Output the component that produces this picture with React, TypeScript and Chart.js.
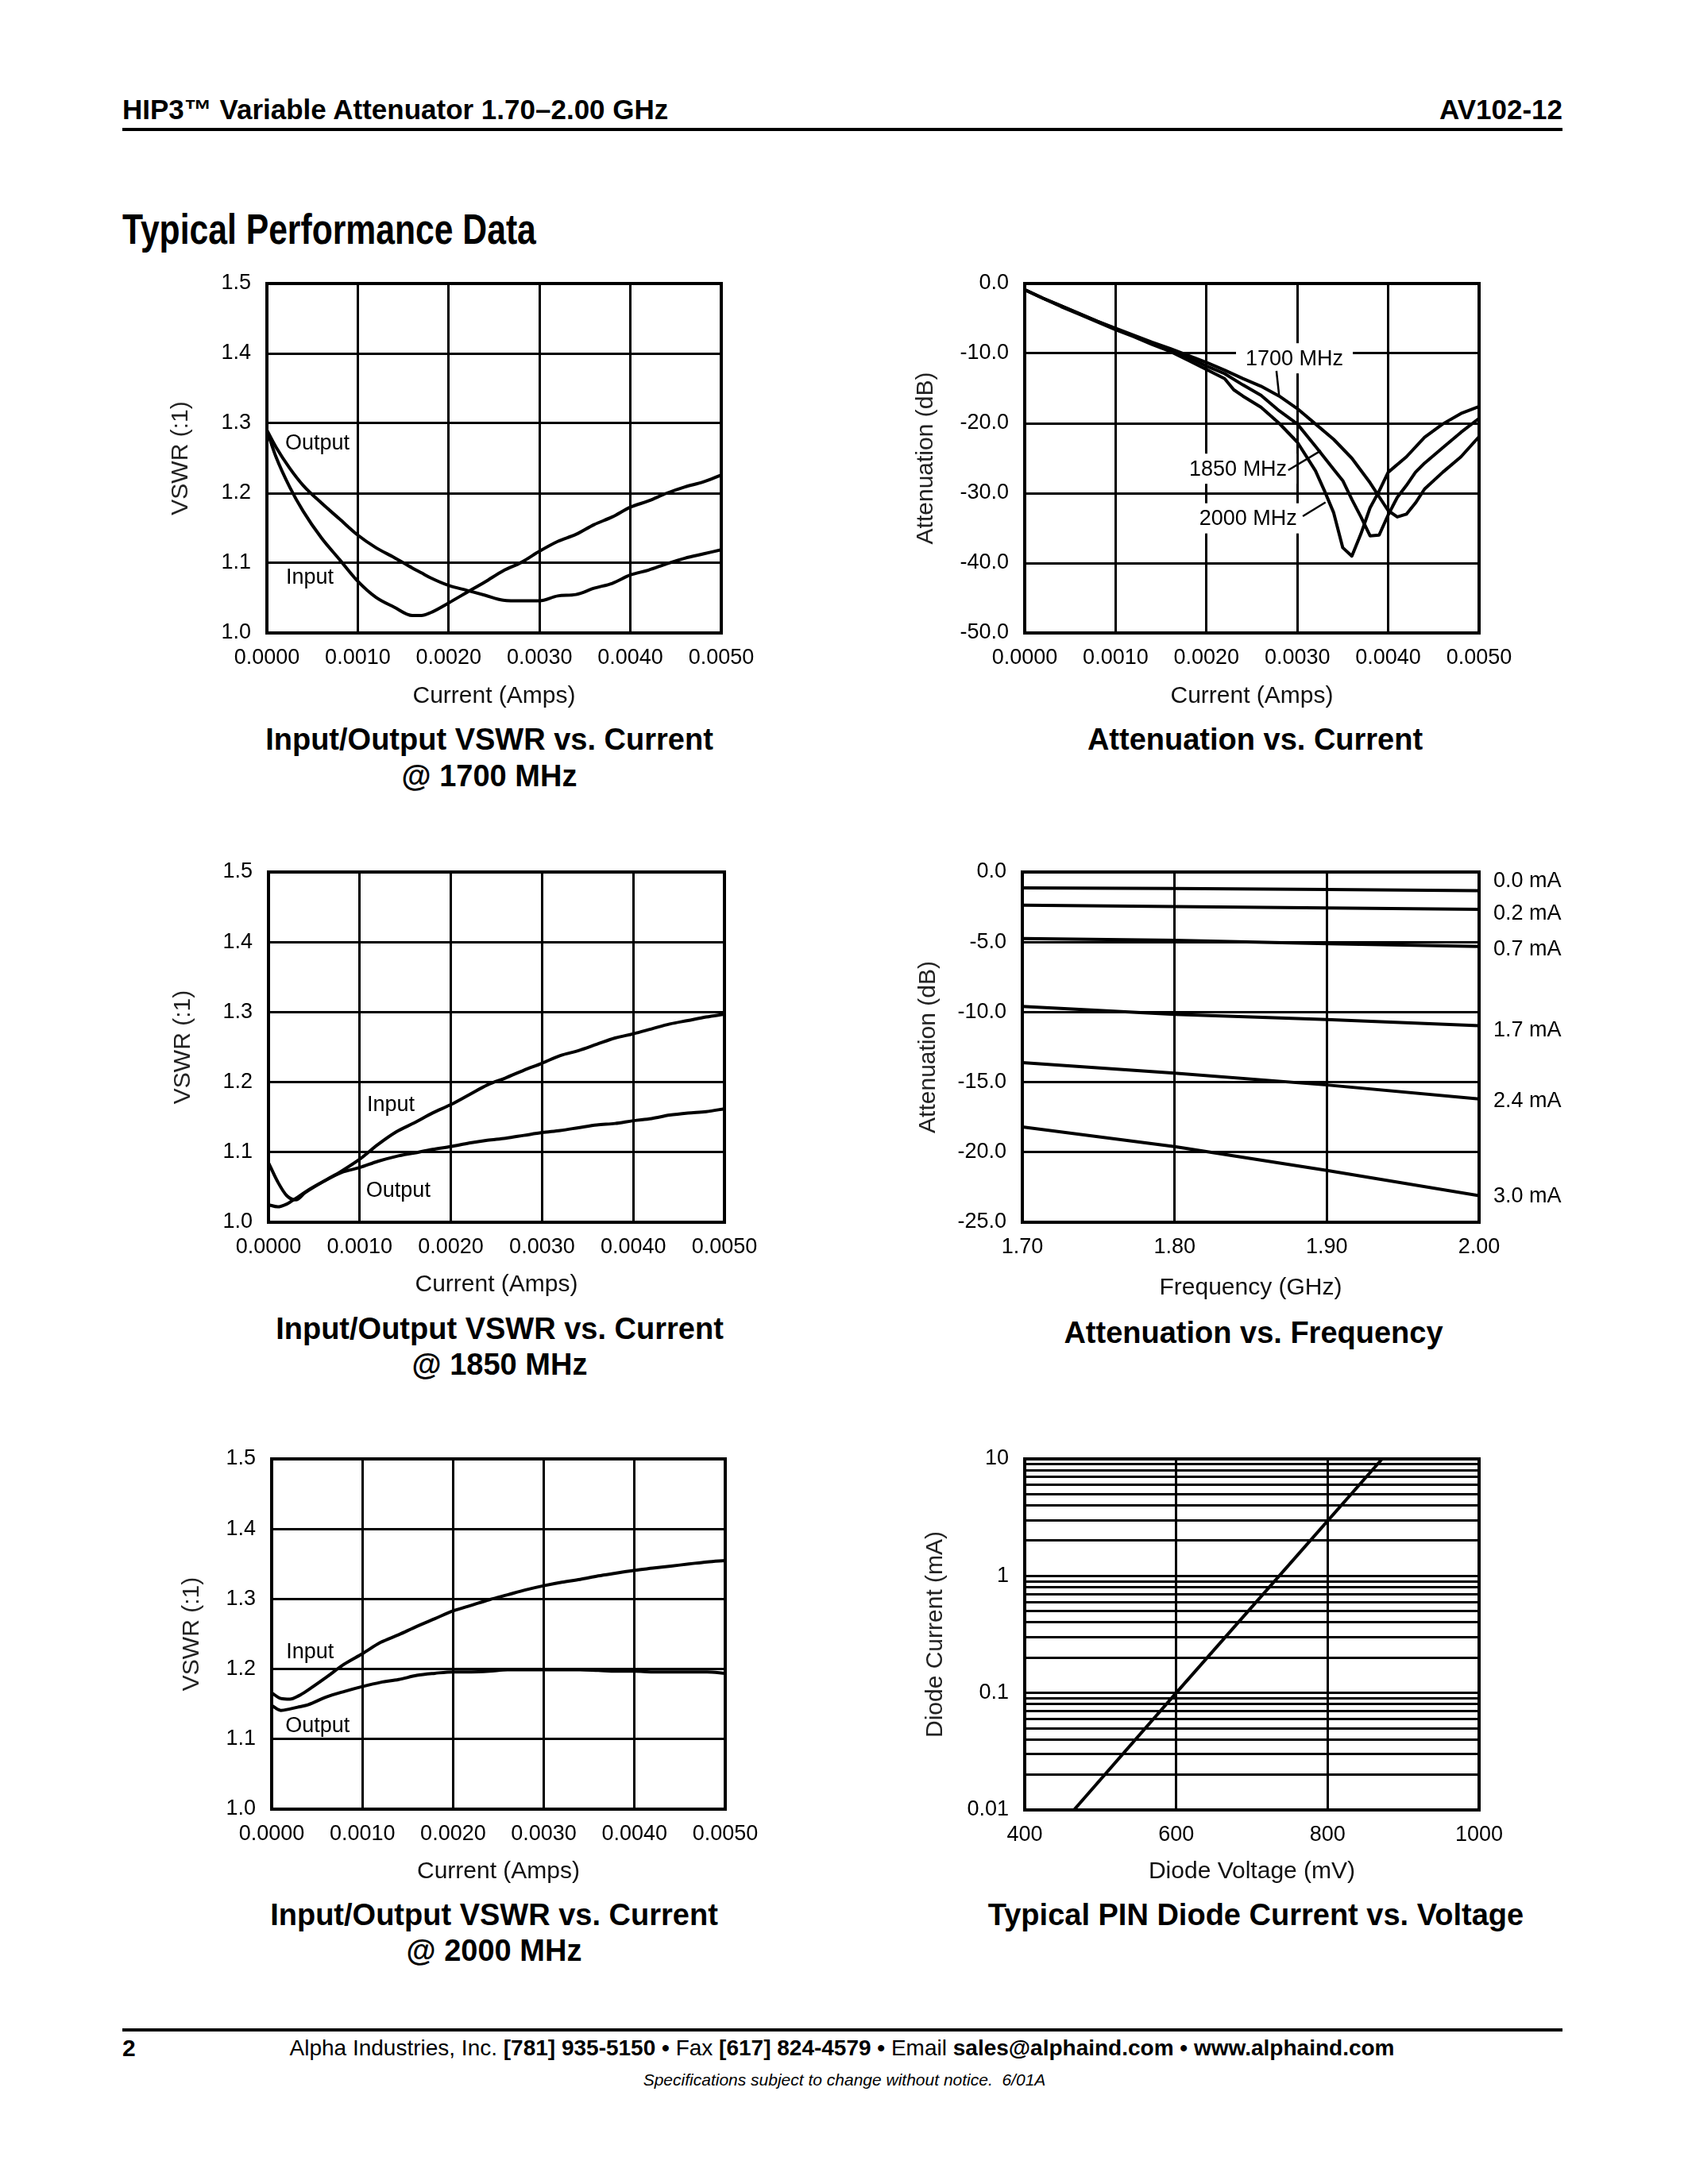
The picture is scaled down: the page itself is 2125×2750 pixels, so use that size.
import React, { useEffect, useRef } from "react";
import { Chart, registerables } from "chart.js";

Chart.register(...registerables);

const FONT = '"Liberation Sans", Arial, Helvetica, sans-serif';
Chart.defaults.font.family = FONT;
Chart.defaults.color = "#000";

// ---------- tick values / labels ----------
const currentTicks = [0, 0.001, 0.002, 0.003, 0.004, 0.005];
const currentTickLabels = ["0.0000", "0.0010", "0.0020", "0.0030", "0.0040", "0.0050"];
const vswrTicks = [1.0, 1.1, 1.2, 1.3, 1.4, 1.5];
const vswrTickLabels = ["1.0", "1.1", "1.2", "1.3", "1.4", "1.5"];
const attCurTicks = [-50, -40, -30, -20, -10, 0];
const attCurTickLabels = ["-50.0", "-40.0", "-30.0", "-20.0", "-10.0", "0.0"];
const freqTicks = [1.7, 1.8, 1.9, 2.0];
const freqTickLabels = ["1.70", "1.80", "1.90", "2.00"];
const attFreqTicks = [-25, -20, -15, -10, -5, 0];
const attFreqTickLabels = ["-25.0", "-20.0", "-15.0", "-10.0", "-5.0", "0.0"];
const voltTicks = [400, 600, 800, 1000];
const voltTickLabels = ["400", "600", "800", "1000"];
const diodeGridTicks = [
  0.01, 0.02, 0.03, 0.04, 0.05, 0.06, 0.07, 0.08, 0.09,
  0.1, 0.2, 0.3, 0.4, 0.5, 0.6, 0.7, 0.8, 0.9,
  1, 2, 3, 4, 5, 6, 7, 8, 9, 10,
];
const diodeDecades = [0.01, 0.1, 1, 10];
const diodeDecadeLabels = ["0.01", "0.1", "1", "10"];

// ---------- VSWR @ 1700 MHz ----------
const vswr1700Current = [0, 0.0001, 0.00025, 0.0004, 0.0006, 0.0008, 0.001, 0.0012, 0.0014, 0.0016, 0.0017, 0.0018, 0.002, 0.0022, 0.0024, 0.0026, 0.0028, 0.003, 0.0032, 0.0034, 0.0036, 0.0038, 0.004, 0.0042, 0.0044, 0.0046, 0.0048, 0.005];
const input1700 = [1.290, 1.252, 1.209, 1.174, 1.136, 1.105, 1.074, 1.051, 1.037, 1.025, 1.025, 1.029, 1.043, 1.058, 1.073, 1.089, 1.101, 1.117, 1.131, 1.141, 1.155, 1.166, 1.180, 1.189, 1.200, 1.209, 1.216, 1.226];
const output1700 = [1.290, 1.266, 1.236, 1.211, 1.186, 1.163, 1.140, 1.122, 1.108, 1.093, 1.086, 1.079, 1.068, 1.061, 1.054, 1.047, 1.046, 1.046, 1.053, 1.055, 1.064, 1.071, 1.083, 1.090, 1.099, 1.107, 1.113, 1.119];

// ---------- VSWR @ 1850 / 2000 MHz ----------
const vswrCurrent = [0, 0.0001, 0.0002, 0.0003, 0.0004, 0.0006, 0.0008, 0.001, 0.0012, 0.0014, 0.0016, 0.0018, 0.002, 0.0022, 0.0024, 0.0026, 0.0028, 0.003, 0.0032, 0.0034, 0.0036, 0.0038, 0.004, 0.0042, 0.0044, 0.0046, 0.0048, 0.005];
const input1850 = [1.085, 1.058, 1.038, 1.032, 1.042, 1.058, 1.073, 1.090, 1.111, 1.129, 1.142, 1.156, 1.168, 1.182, 1.196, 1.206, 1.217, 1.227, 1.238, 1.245, 1.254, 1.263, 1.269, 1.276, 1.283, 1.288, 1.293, 1.297];
const output1850 = [1.025, 1.022, 1.026, 1.034, 1.043, 1.058, 1.071, 1.078, 1.087, 1.094, 1.099, 1.104, 1.108, 1.113, 1.117, 1.120, 1.124, 1.128, 1.131, 1.135, 1.139, 1.141, 1.145, 1.148, 1.153, 1.156, 1.158, 1.162];
const input2000 = [1.166, 1.158, 1.157, 1.162, 1.170, 1.188, 1.207, 1.222, 1.238, 1.249, 1.261, 1.272, 1.283, 1.291, 1.299, 1.306, 1.313, 1.319, 1.324, 1.328, 1.333, 1.337, 1.341, 1.344, 1.347, 1.350, 1.353, 1.355];
const output2000 = [1.148, 1.141, 1.143, 1.146, 1.149, 1.160, 1.168, 1.175, 1.181, 1.185, 1.191, 1.194, 1.196, 1.196, 1.197, 1.199, 1.199, 1.199, 1.199, 1.199, 1.198, 1.197, 1.197, 1.196, 1.196, 1.196, 1.196, 1.194];

// ---------- Attenuation vs. Current ----------
const att1700Current = [0, 0.0002, 0.0004, 0.0006, 0.0008, 0.001, 0.0012, 0.0014, 0.0016, 0.0018, 0.002, 0.0022, 0.0024, 0.0026, 0.0028, 0.003, 0.0032, 0.0034, 0.0036, 0.0038, 0.004, 0.0041, 0.0042, 0.0043, 0.0044, 0.0046, 0.0048, 0.005];
const att1700 = [-0.9, -2.1, -3.2, -4.3, -5.4, -6.4, -7.4, -8.4, -9.3, -10.3, -11.3, -12.4, -13.6, -14.7, -16.1, -17.9, -20.1, -22.3, -25.0, -28.5, -32.5, -33.4, -33.0, -31.4, -29.4, -27.0, -24.8, -21.9];
const att1850Current = [0, 0.0002, 0.0004, 0.0006, 0.0008, 0.001, 0.0012, 0.0014, 0.0016, 0.0018, 0.002, 0.0022, 0.0024, 0.0026, 0.0028, 0.003, 0.0032, 0.0034, 0.0035, 0.0036, 0.0037, 0.0038, 0.0039, 0.004, 0.0041, 0.0042, 0.0043, 0.0044, 0.0046, 0.0048, 0.005];
const att1850 = [-0.9, -2.1, -3.2, -4.3, -5.4, -6.5, -7.5, -8.5, -9.5, -10.6, -11.8, -12.9, -14.5, -16.0, -18.2, -20.1, -23.3, -26.6, -28.2, -30.9, -33.4, -36.1, -36.0, -33.1, -30.6, -28.9, -27.0, -25.7, -23.5, -21.3, -19.3];
const att2000Current = [0, 0.0002, 0.0004, 0.0006, 0.0008, 0.001, 0.0012, 0.0014, 0.0016, 0.0018, 0.002, 0.0022, 0.0023, 0.0024, 0.0026, 0.0028, 0.003, 0.0032, 0.0033, 0.0034, 0.0035, 0.0036, 0.0037, 0.0038, 0.0039, 0.004, 0.0042, 0.0044, 0.0046, 0.0048, 0.005];
const att2000 = [-0.9, -2.1, -3.3, -4.4, -5.5, -6.6, -7.6, -8.7, -9.7, -11.0, -12.3, -13.6, -15.2, -16.1, -17.7, -20.0, -22.7, -26.8, -29.7, -32.8, -37.8, -39.0, -35.8, -32.1, -29.7, -27.0, -24.8, -22.0, -20.1, -18.6, -17.6];

// ---------- Attenuation vs. Frequency ----------
const freqGHz = [1.70, 1.80, 1.90, 2.00];
const att0_0mA = [-1.13, -1.18, -1.25, -1.33];
const att0_2mA = [-2.36, -2.46, -2.56, -2.66];
const att0_7mA = [-4.75, -4.87, -5.12, -5.31];
const att1_7mA = [-9.6, -10.16, -10.53, -10.97];
const att2_4mA = [-13.6, -14.35, -15.2, -16.2];
const att3_0mA = [-18.2, -19.6, -21.3, -23.1];
const freqCurveLabels = ["0.0 mA", "0.2 mA", "0.7 mA", "1.7 mA", "2.4 mA", "3.0 mA"];
const freqCurveLabelDb = [-0.6, -2.95, -5.45, -11.25, -16.3, -23.1];

// ---------- PIN diode ----------
const diodeVoltageMv = [465, 600, 736, 872];
const diodeCurrentMa = [0.01, 0.1, 1, 10];

// ---------- helpers ----------
type Pt = { x: number; y: number };
const zip = (xs: number[], ys: number[]): Pt[] => xs.map((x, i) => ({ x, y: ys[i] }));

interface Annot {
  text: string;
  x: number;
  y: number;
  dx?: number;
  box?: boolean;
  leader?: [number, number, number, number];
}

interface Spec {
  L: number; T: number; R: number; B: number;
  yOff: number; xOff: number;
  xMin: number; xMax: number; xTicks: number[]; xLabel: (v: number, i: number) => string;
  yType: "linear" | "logarithmic";
  yMin: number; yMax: number; yTicks: number[]; yLabel: (v: number, i: number) => string;
  xTitle: string; yTitle: string;
  series: Pt[][];
  smooth: boolean;
  annots: Annot[];
}

const PAD_L = 10, PAD_T = 40, PAD_R = 140, PAD_B = 10;

const framePlugin = {
  id: "frame",
  afterDatasetsDraw(chart: any) {
    const { ctx, chartArea: a } = chart;
    ctx.save();
    ctx.strokeStyle = "#000";
    ctx.lineWidth = 4;
    ctx.strokeRect(a.left, a.top, a.right - a.left, a.bottom - a.top);
    ctx.restore();
  },
};

function annotPlugin(annots: Annot[]) {
  return {
    id: "annots",
    beforeDatasetsDraw(chart: any) {
      const { ctx } = chart;
      const xs = chart.scales.x, ys = chart.scales.y;
      ctx.save();
      ctx.font = `27px ${FONT}`;
      ctx.textBaseline = "middle";
      ctx.textAlign = "left";
      const items = annots.map((a) => {
        const px = xs.getPixelForValue(a.x) + (a.dx || 0);
        const py = ys.getPixelForValue(a.y);
        const w = ctx.measureText(a.text).width;
        return { a, px, py, w };
      });
      for (const it of items) {
        if (it.a.box) {
          ctx.fillStyle = "#fff";
          ctx.fillRect(it.px - 12, it.py - 19, it.w + 24, 38);
        }
      }
      for (const it of items) {
        ctx.fillStyle = "#000";
        ctx.fillText(it.a.text, it.px, it.py + 1);
        if (it.a.leader) {
          const [x1, y1, x2, y2] = it.a.leader;
          ctx.beginPath();
          ctx.lineWidth = 2.5;
          ctx.strokeStyle = "#000";
          ctx.moveTo(xs.getPixelForValue(x1), ys.getPixelForValue(y1));
          ctx.lineTo(xs.getPixelForValue(x2), ys.getPixelForValue(y2));
          ctx.stroke();
        }
      }
      ctx.restore();
    },
  };
}

function buildConfig(spec: Spec, W: number, H: number): any {
  return {
    type: "line",
    data: {
      datasets: spec.series.map((d) => ({
        data: d,
        borderColor: "#000",
        borderWidth: 4,
        pointRadius: 0,
        fill: false,
        tension: spec.smooth ? 0.4 : 0,
        cubicInterpolationMode: spec.smooth ? "monotone" : "default",
        borderJoinStyle: "round",
        borderCapStyle: "round",
      })),
    },
    options: {
      responsive: false,
      animation: false,
      devicePixelRatio: 1,
      events: [],
      layout: { padding: { left: PAD_L, top: PAD_T, right: PAD_R, bottom: PAD_B } },
      plugins: { legend: { display: false }, tooltip: { enabled: false }, title: { display: false } },
      scales: {
        x: {
          type: "linear",
          min: spec.xMin,
          max: spec.xMax,
          afterBuildTicks: (s: any) => { s.ticks = spec.xTicks.map((v) => ({ value: v })); },
          afterFit: (s: any) => { s.height = H; },
          ticks: {
            autoSkip: false, maxRotation: 0, minRotation: 0, padding: 15,
            font: { size: 27 }, color: "#000",
            callback: (v: number, i: number) => spec.xLabel(v, i),
          },
          grid: { color: "#000", lineWidth: 3, drawTicks: false },
          border: { display: false },
          title: { display: true, text: spec.xTitle, font: { size: 30 }, color: "#111", padding: { top: 0, bottom: 2 } },
        },
        y: {
          type: spec.yType,
          min: spec.yMin,
          max: spec.yMax,
          afterBuildTicks: (s: any) => { s.ticks = spec.yTicks.map((v) => ({ value: v })); },
          afterFit: (s: any) => { s.width = W; },
          ticks: {
            autoSkip: false, padding: 20,
            font: { size: 27 }, color: "#000",
            callback: (v: number, i: number) => spec.yLabel(v, i),
          },
          grid: { color: "#000", lineWidth: 3, drawTicks: false },
          border: { display: false },
          title: { display: true, text: spec.yTitle, font: { size: 30 }, color: "#222", padding: { top: 4, bottom: 0 } },
        },
      },
    },
    plugins: [annotPlugin(spec.annots), framePlugin],
  };
}

function ChartBox({ spec }: { spec: Spec }) {
  const ref = useRef<HTMLCanvasElement>(null);
  const W = spec.yOff + 22;
  const H = spec.xOff + 20;
  const cl = spec.L - W - PAD_L;
  const ct = spec.T - PAD_T;
  const cw = PAD_L + W + (spec.R - spec.L) + PAD_R;
  const ch = PAD_T + (spec.B - spec.T) + H + PAD_B;
  useEffect(() => {
    if (!ref.current) return;
    const chart = new Chart(ref.current, buildConfig(spec, W, H));
    return () => chart.destroy();
  }, []);
  return (
    <canvas
      ref={ref}
      width={cw}
      height={ch}
      style={{ position: "absolute", left: cl, top: ct, width: cw, height: ch }}
    />
  );
}

function Txt(props: {
  x: number; y: number; size: number; bold?: boolean; italic?: boolean;
  align?: "left" | "center" | "right"; scaleX?: number; children: any;
}) {
  const { x, y, size, bold, italic, align = "left", scaleX, children } = props;
  const base: any = {
    position: "absolute",
    top: y - 0.49 * size,
    fontSize: size,
    lineHeight: `${size}px`,
    fontWeight: bold ? 700 : 400,
    fontStyle: italic ? "italic" : "normal",
    whiteSpace: "nowrap",
    fontFamily: FONT,
    color: "#000",
  };
  if (align === "left") {
    return (
      <div style={{ ...base, left: x, transform: scaleX ? `scaleX(${scaleX})` : undefined, transformOrigin: "left center" }}>
        {children}
      </div>
    );
  }
  if (align === "center") {
    return <div style={{ ...base, left: x - 1500, width: 3000, textAlign: "center" }}>{children}</div>;
  }
  return <div style={{ ...base, left: x - 3000, width: 3000, textAlign: "right" }}>{children}</div>;
}

const curLabel = (_v: number, i: number) => currentTickLabels[i] ?? "";
const vswrLabel = (_v: number, i: number) => vswrTickLabels[i] ?? "";

const vswrCommon = {
  xMin: 0, xMax: 0.005, xTicks: currentTicks, xLabel: curLabel,
  yType: "linear" as const, yMin: 1.0, yMax: 1.5, yTicks: vswrTicks, yLabel: vswrLabel,
  xTitle: "Current (Amps)", yTitle: "VSWR (:1)", smooth: true,
};

const chart1: Spec = {
  ...vswrCommon,
  L: 336, T: 357, R: 908, B: 797, yOff: 108, xOff: 80,
  series: [zip(vswr1700Current, input1700), zip(vswr1700Current, output1700)],
  annots: [
    { text: "Output", x: 0.0002, y: 1.272 },
    { text: "Input", x: 0.00021, y: 1.08 },
  ],
};

const chart2: Spec = {
  L: 1290, T: 357, R: 1862, B: 797, yOff: 124, xOff: 80,
  xMin: 0, xMax: 0.005, xTicks: currentTicks, xLabel: curLabel,
  yType: "linear", yMin: -50, yMax: 0, yTicks: attCurTicks, yLabel: (_v, i) => attCurTickLabels[i] ?? "",
  xTitle: "Current (Amps)", yTitle: "Attenuation (dB)", smooth: false,
  series: [zip(att1700Current, att1700), zip(att1850Current, att1850), zip(att2000Current, att2000)],
  annots: [
    { text: "1700 MHz", x: 0.00243, y: -10.7, box: true, leader: [0.00277, -12.5, 0.0028, -16.1] },
    { text: "1850 MHz", x: 0.00181, y: -26.5, box: true, leader: [0.0029, -26.7, 0.00326, -23.9] },
    { text: "2000 MHz", x: 0.00192, y: -33.6, box: true, leader: [0.00306, -33.3, 0.00331, -31.3] },
  ],
};

const chart3: Spec = {
  ...vswrCommon,
  L: 338, T: 1098, R: 912, B: 1539, yOff: 107, xOff: 79,
  series: [zip(vswrCurrent, input1850), zip(vswrCurrent, output1850)],
  annots: [
    { text: "Input", x: 0.00108, y: 1.168 },
    { text: "Output", x: 0.00107, y: 1.046 },
  ],
};

const freqSeries = [att0_0mA, att0_2mA, att0_7mA, att1_7mA, att2_4mA, att3_0mA];
const chart4: Spec = {
  L: 1287, T: 1098, R: 1862, B: 1539, yOff: 118, xOff: 83,
  xMin: 1.7, xMax: 2.0, xTicks: freqTicks, xLabel: (_v, i) => freqTickLabels[i] ?? "",
  yType: "linear", yMin: -25, yMax: 0, yTicks: attFreqTicks, yLabel: (_v, i) => attFreqTickLabels[i] ?? "",
  xTitle: "Frequency (GHz)", yTitle: "Attenuation (dB)", smooth: false,
  series: freqSeries.map((s) => zip(freqGHz, s)),
  annots: freqCurveLabels.map((t, i) => ({ text: t, x: 2.0, dx: 18, y: freqCurveLabelDb[i] })),
};

const chart5: Spec = {
  ...vswrCommon,
  L: 342, T: 1837, R: 913, B: 2278, yOff: 100, xOff: 79,
  series: [zip(vswrCurrent, input2000), zip(vswrCurrent, output2000)],
  annots: [
    { text: "Input", x: 0.00016, y: 1.225 },
    { text: "Output", x: 0.00015, y: 1.119 },
  ],
};

const chart6: Spec = {
  L: 1290, T: 1837, R: 1862, B: 2279, yOff: 112, xOff: 78,
  xMin: 400, xMax: 1000, xTicks: voltTicks, xLabel: (_v, i) => voltTickLabels[i] ?? "",
  yType: "logarithmic", yMin: 0.01, yMax: 10, yTicks: diodeGridTicks,
  yLabel: (v) => {
    const k = diodeDecades.findIndex((d) => Math.abs(d - v) < d * 1e-6);
    return k >= 0 ? diodeDecadeLabels[k] : "";
  },
  xTitle: "Diode Voltage (mV)", yTitle: "Diode Current (mA)", smooth: false,
  series: [zip(diodeVoltageMv, diodeCurrentMa)],
  annots: [],
};

export default function App() {
  return (
    <div
      style={{
        position: "absolute", left: 0, top: 0, width: 2125, height: 2750,
        background: "#fff", overflow: "hidden", fontFamily: FONT,
      }}
    >
      <Txt x={154} y={137} size={35} bold>HIP3™ Variable Attenuator 1.70–2.00 GHz</Txt>
      <Txt x={1967} y={137} size={35} bold align="right">AV102-12</Txt>
      <div style={{ position: "absolute", left: 154, top: 161, width: 1813, height: 4, background: "#000" }} />
      <Txt x={154} y={287} size={54} bold scaleX={0.79}>Typical Performance Data</Txt>

      <ChartBox spec={chart1} />
      <ChartBox spec={chart2} />
      <ChartBox spec={chart3} />
      <ChartBox spec={chart4} />
      <ChartBox spec={chart5} />
      <ChartBox spec={chart6} />

      <Txt x={616} y={931} size={38} bold align="center">Input/Output VSWR vs. Current</Txt>
      <Txt x={616} y={977} size={38} bold align="center">@ 1700 MHz</Txt>
      <Txt x={1580} y={931} size={38} bold align="center">Attenuation vs. Current</Txt>
      <Txt x={629} y={1673} size={38} bold align="center">Input/Output VSWR vs. Current</Txt>
      <Txt x={629} y={1718} size={38} bold align="center">@ 1850 MHz</Txt>
      <Txt x={1578} y={1678} size={38} bold align="center">Attenuation vs. Frequency</Txt>
      <Txt x={622} y={2411} size={38} bold align="center">Input/Output VSWR vs. Current</Txt>
      <Txt x={622} y={2456} size={38} bold align="center">@ 2000 MHz</Txt>
      <Txt x={1581} y={2411} size={38} bold align="center">Typical PIN Diode Current vs. Voltage</Txt>

      <div style={{ position: "absolute", left: 154, top: 2554, width: 1813, height: 4, background: "#000" }} />
      <Txt x={154} y={2579} size={30} bold>2</Txt>
      <Txt x={1060} y={2579} size={28} align="center">
        Alpha Industries, Inc. <b>[781] 935-5150 • </b>Fax <b>[617] 824-4579 • </b>Email <b>sales@alphaind.com • www.alphaind.com</b>
      </Txt>
      <Txt x={1063} y={2618} size={21} italic align="center">
        Specifications subject to change without notice.&nbsp; 6/01A
      </Txt>
    </div>
  );
}
